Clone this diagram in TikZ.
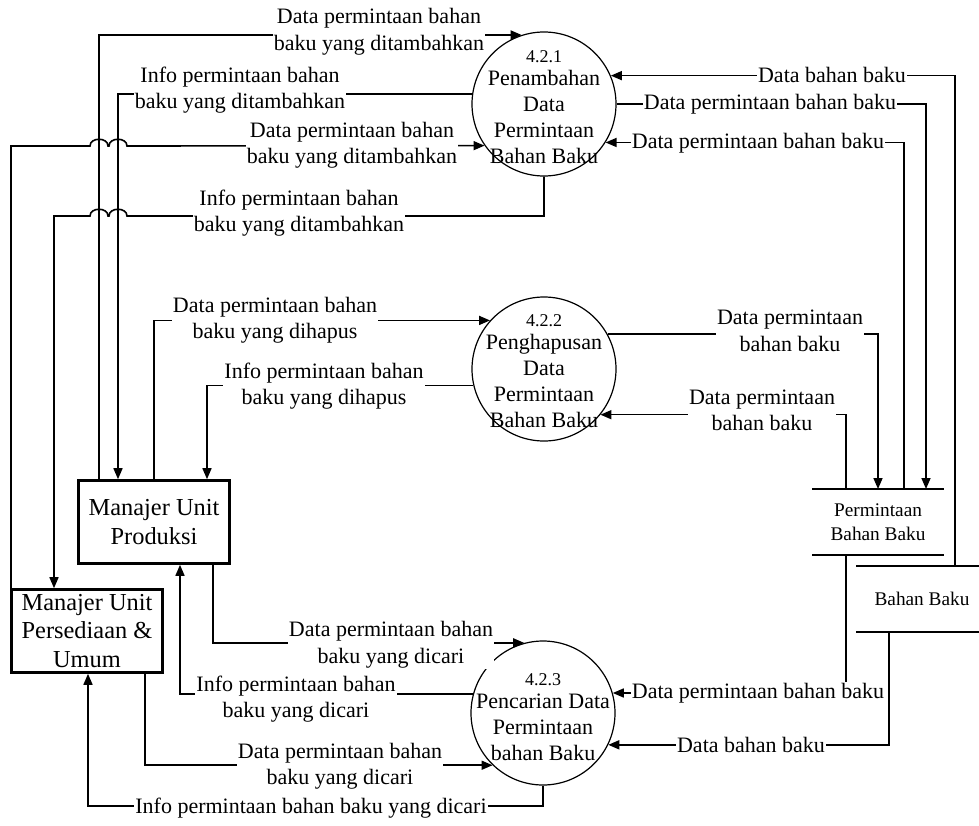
\documentclass[tikz,border=0pt]{standalone}
\usepackage{fontspec}
\setmainfont{Liberation Serif}
\usetikzlibrary{arrows.meta}
\begin{document}
\begin{tikzpicture}[x=1pt,y=-1pt,
  flow/.style={draw, line width=1.6pt, -{Triangle[length=11pt,width=9pt]}},
  plain/.style={draw, line width=1.6pt},
  lbl/.style={fill=white, inner sep=1pt, align=center, font=\fontsize{22}{26.5}\selectfont},
  proc/.style={circle, draw, line width=1.2pt, minimum size=144pt, inner sep=0pt},
  ptext/.style={align=center, inner sep=0pt, font=\fontsize{22}{26}\selectfont},
  ent/.style={rectangle, draw, line width=2.6pt, minimum width=151pt, minimum height=83pt, inner sep=0pt, align=center, font=\fontsize{24.4}{28.5}\selectfont},
  store/.style={rectangle, minimum width=132pt, minimum height=66pt, inner sep=0pt, outer sep=0pt, align=center, font=\fontsize{19.3}{24}\selectfont},
  num/.style={font=\fontsize{18}{22}\selectfont}
]
\useasboundingbox (0,0) rectangle (979,825);
\clip (0,0) rectangle (979,825);

% processes
\node[proc] (p1) at (544,104) {};
\node[proc] (p2) at (544,369) {};
\node[proc] (p3) at (543,713) {};

% entities
\node[ent] (mup) at (154,522) {Manajer Unit\\Produksi};
\node[ent] (mupu) at (87,631) {Manajer Unit\\Persediaan \&\\Umum};

% stores
\node[store] (s1) at (878,522) {Permintaan\\Bahan Baku};
\draw[plain] (s1.north west) -- (s1.north east) (s1.south west) -- (s1.south east);
\node[store] (s2) at (922,599) {Bahan Baku};
\draw[plain] (s2.north west) -- (s2.north east) (s2.south west) -- (s2.south east);

% flows, top process
\draw[flow] (mup.north -| 99,0) |- (p1.108.5);
\draw[flow] (p1.172.1) -| (mup.north -| 118,0);
\draw[flow] (mupu.north -| 11,0) -- (11,146) -- (90,146)
  .. controls (90,137) and (108,137) .. (108,146) -- (109,146)
  .. controls (109,137) and (127,137) .. (127,146) -- (p1.215.3);
\draw[flow] (p1.south) |- (127,216)
  .. controls (127,207) and (109,207) .. (109,216) -- (108,216)
  .. controls (108,207) and (90,207) .. (90,216) -| (mupu.north -| 54,0);
\draw[flow] (s2.north -| 955,0) |- (p1.23.5);
\draw[flow] (p1.east) -| (s1.north -| 926,0);
\draw[flow] (s1.north -| 904,0) |- (p1.-32.4);

% flows, middle process
\draw[flow] (mup.north -| 154,0) |- (p2.138.7);
\draw[flow] (p2.193.5) -| (mup.north -| 207,0);
\draw[flow] (p2.29.7) -| (s1.north -| 878,0);
\draw[flow] (s1.north -| 846,0) |- (p2.-39.2);

% flows, bottom process
\draw[flow] (s1.south -| 846,0) |- (p3.16.0);
\draw[flow] (s2.south -| 889,0) |- (p3.-26.1);
\draw[flow] (mup.south -| 213,0) |- (p3.105.8);
\draw[flow] (p3.165.7) -| (mup.south -| 180,0);
\draw[flow] (mupu.south -| 145,0) |- (p3.226.8);
\draw[flow] (p3.south) -- (p3.south |- 0,806) -| (mupu.south -| 88,0);

% labels
\node[lbl] (l1) at (379,31.5) {Data permintaan bahan\\baku yang ditambahkan};
\node[lbl] (l2) at (240,90) {Info permintaan bahan\\baku yang ditambahkan};
\node[lbl] (l3) at (352,145) {Data permintaan bahan\\baku yang ditambahkan};
\node[lbl] (l4) at (299,213) {Info permintaan bahan\\baku yang ditambahkan};
\node[lbl] (l5) at (832,75) {Data bahan baku};
\node[lbl] (l6) at (770,104) {Data permintaan bahan baku};
\node[lbl] (l7) at (758,143) {Data permintaan bahan baku};
\node[lbl] (l8) at (275,320) {Data permintaan bahan\\baku yang dihapus};
\node[lbl] (l9) at (324,386) {Info permintaan bahan\\baku yang dihapus};
\node[lbl] (l10) at (790,331) {Data permintaan\\bahan baku};
\node[lbl] (l11) at (762,410.5) {Data permintaan\\bahan baku};
\node[lbl] (l12) at (758,693) {Data permintaan bahan baku};
\node[lbl] (l13) at (751,745) {Data bahan baku};
\node[lbl] (l14) at (391,644.5) {Data permintaan bahan\\baku yang dicari};
\node[lbl] (l15) at (296,699) {Info permintaan bahan\\baku yang dicari};
\node[lbl] (l16) at (340,766) {Data permintaan bahan\\baku yang dicari};
\node[lbl] (l17) at (311,808) {Info permintaan bahan baku yang dicari};

% process texts
\node[ptext] (t1) at (544,107) {{\fontsize{18}{22}\selectfont 4.2.1}\\[-3pt]Penambahan\\Data\\Permintaan\\Bahan Baku};
\node[ptext] (t2) at (544,371) {{\fontsize{18}{22}\selectfont 4.2.2}\\[-3pt]Penghapusan\\Data\\Permintaan\\Bahan Baku};
\node[ptext] (t3) at (543,717) {{\fontsize{18}{22}\selectfont 4.2.3}\\[-3pt]Pencarian Data\\Permintaan\\bahan Baku};
\end{tikzpicture}
\end{document}
